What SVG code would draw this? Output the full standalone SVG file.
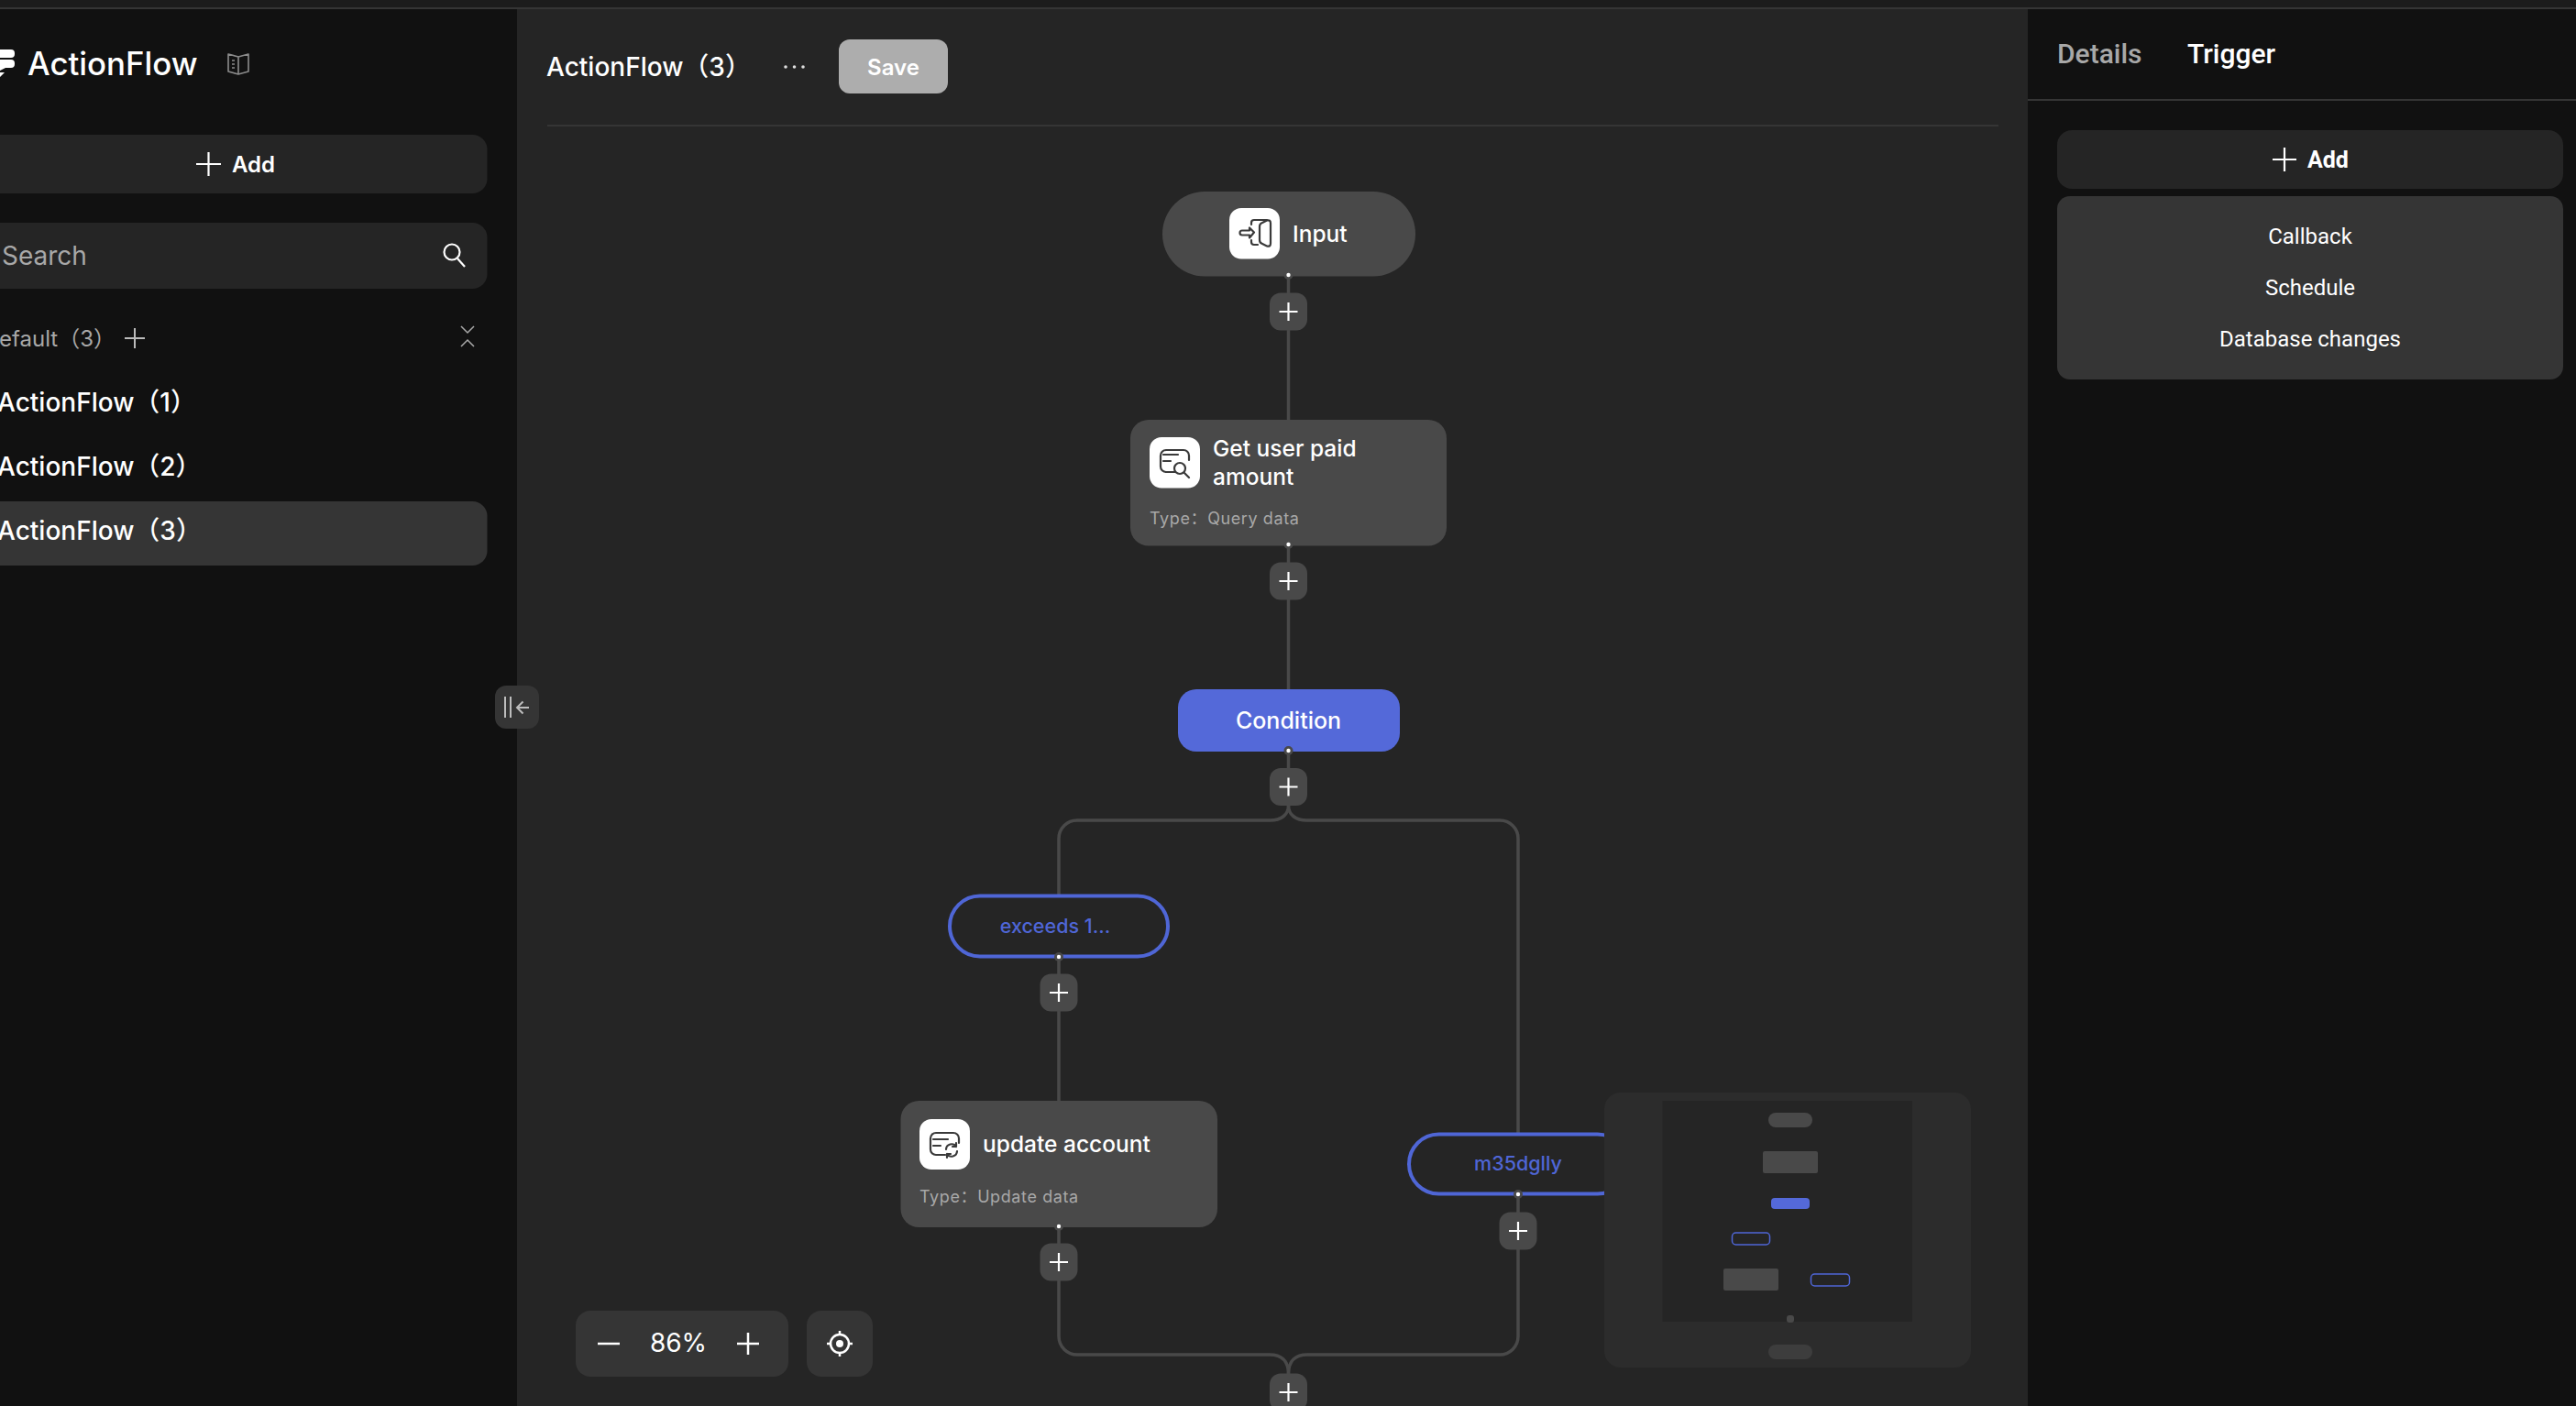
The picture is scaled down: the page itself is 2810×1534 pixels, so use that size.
<svg xmlns="http://www.w3.org/2000/svg" width="2810" height="1534" viewBox="0 0 2810 1534">
<style>
text{font-family:Inter,"Noto Sans CJK SC",sans-serif;fill:#fff}
.r{font-family:Roboto,"Noto Sans CJK SC",sans-serif}
.node{fill:#494949}
.title{font-size:24.500px;font-weight:500}
.type{font-size:18px;fill:#a8a8a8;letter-spacing:.6px}
.cond{fill:none;stroke:#4f66d6;stroke-width:4}
.condt{fill:#4f66d6;font-size:21.500px;font-weight:500;text-anchor:middle}
.link{fill:none;stroke:#494949;stroke-width:3.5}
.pb{fill:#494949}
.ic{fill:none;stroke:#fff;stroke-width:2.2}
.dk{fill:none;stroke:#3a3a3a;stroke-width:2.2;stroke-linecap:round;stroke-linejoin:round}
.iconbg{fill:#fff}
.list{font-size:28px;font-weight:500}
.halo{fill:#494949}
.dot{fill:#fff}
.mini{fill:#494949}
.minio{fill:none;stroke:#4f66d6;stroke-width:1.5}
</style>
<defs>
<g id="plus"><rect class="pb" x="-20.5" y="-20.5" width="41" height="41" rx="12"/><path class="ic" d="M-10 0H10M0-10V10"/></g>
<g id="port"><circle class="halo" r="5"/><circle class="dot" r="2.2"/></g>
</defs>
<rect id="background" width="2810" height="1534" fill="#252525"/>
<g id="topbar"><rect width="2810" height="8" fill="#1c1c1c"/><rect y="8" width="2810" height="2" fill="#353535"/></g>
<g id="sidebar">
<rect y="10" width="564" height="1524" fill="#111"/>
<g id="logo"><path fill="#fff" d="M0 54H12a4 4 0 0 1 4 4v1a4 4 0 0 1-4 4H0zM0 65H12a4 4 0 0 1 4 4v1a4 4 0 0 1-4 4H6L0 77zM0 79H5L0 84z"/>
<text x="30" y="82" font-size="34.800" font-weight="500">ActionFlow</text>
<path d="M260 62l-11-3v19l11 3 11-3V59zM260 62V81M253 66h3M253 70h3M253 74h3" fill="none" stroke="#8c8c8c" stroke-width="1.6" stroke-linejoin="round"/></g>
<g id="side-add"><rect x="-20" y="147" width="551.500" height="64" rx="16" fill="#252525"/><path class="ic" d="M214 179H241M227.500 166V192"/><text x="253" y="188" font-size="24" font-weight="600">Add</text></g>
<g id="side-search"><rect x="-20" y="243" width="551.500" height="72" rx="16" fill="#252525"/><text x="2" y="289" font-size="28" style="fill:#a8a8a8">Search</text><circle cx="493" cy="275" r="8.500" class="ic"/><path class="ic" d="M499 282L507 291"/></g>
<g id="side-group"><text x="-1" y="378" font-size="24" style="fill:#a8a8a8">efault（3）</text><path d="M136 369H158M147 358V380" fill="none" stroke="#bbb" stroke-width="2"/><path d="M503 356L510 363L517 356M503 378L510 371L517 378" fill="none" stroke="#aaa" stroke-width="1.500"/></g>
<g id="side-items"><rect x="-20" y="547" width="551.500" height="70" rx="16" fill="#353535"/>
<text class="list" x="-3" y="449">ActionFlow（1）</text><text class="list" x="-3" y="519">ActionFlow（2）</text><text class="list" x="-3" y="589">ActionFlow（3）</text></g>
</g>
<g id="header"><text x="596" y="83" font-size="28" font-weight="500">ActionFlow（3）</text><g fill="#ddd"><circle cx="857" cy="73" r="1.800"/><circle cx="866.500" cy="73" r="1.800"/><circle cx="876" cy="73" r="1.800"/></g>
<rect x="915" y="43" width="119" height="59" rx="12" fill="#adadad"/><text x="974.500" y="82" font-size="24" font-weight="600" text-anchor="middle">Save</text>
<rect x="597" y="136" width="1583" height="2" fill="#353535"/></g>
<g id="collapse"><rect x="540" y="748" width="48" height="47" rx="12" fill="#353535"/><path d="M551 760V783M557 760V783M577 772H564M570.500 765.500L564 772L570.500 778.500" fill="none" stroke="#bdbdbd" stroke-width="2"/></g>
<g id="connectors">
<path class="link" d="M1405.500 300V458M1405.500 594V752M1405.500 819V879"/>
<path class="link" d="M1405.500 879c0 10-8 16-20 16H1175a20 20 0 0 0-20 20V977"/>
<path class="link" d="M1405.500 879c0 10 8 16 20 16H1636a20 20 0 0 1 20 20V1236"/>
<path class="link" d="M1155 1044V1201M1155 1338V1458a20 20 0 0 0 20 20H1385c12 0 20.500 6 20.500 21"/>
<path class="link" d="M1656 1303V1458a20 20 0 0 1-20 20H1426c-12 0-20.500 6-20.500 21"/>
</g>
<g id="node-input"><rect class="node" x="1268" y="209" width="276" height="92.500" rx="46"/><rect class="iconbg" x="1341" y="227" width="55" height="55.500" rx="13"/>
<path class="dk" d="M1368 253.500l-5-5v3h-8a2.500 2.500 0 0 0 0 5h8v3zM1365 245v-2a3 3 0 0 1 3-3h14M1365 262v2a3 3 0 0 0 3 3h4M1374 247q0-3 3-4l5-2.500q4-1 4 3v22q0 4-4 3l-5-2.500q-3-1-3-4z"/>
<text class="title" x="1410" y="263.500">Input</text></g>
<g id="node-query"><rect class="node" x="1233" y="458" width="345" height="137.500" rx="20"/><rect class="iconbg" x="1254" y="477" width="55" height="55.500" rx="13"/>
<path class="dk" d="M1282 515h-10a6 6 0 0 1-6-6v-12a6 6 0 0 1 6-6h19a6 6 0 0 1 6 6v5M1269 496h16M1269 503h8M1292 516l5 5"/><circle class="dk" cx="1287" cy="511" r="6"/>
<text class="title" x="1323" y="497.500">Get user paid</text><text class="title" x="1323" y="528.500">amount</text><text class="type" x="1254" y="572">Type：Query data</text></g>
<g id="node-condition"><rect x="1285" y="752" width="242" height="68" rx="20" fill="#5469d9"/><text class="title" x="1405.500" y="795" text-anchor="middle" style="font-size:25px">Condition</text></g>
<g id="node-exceeds"><rect class="cond" x="1036" y="977.500" width="238" height="66" rx="33"/><text class="condt" x="1151" y="1018">exceeds 1...</text></g>
<g id="node-update"><rect class="node" x="982.500" y="1201" width="345.500" height="138" rx="20"/><rect class="iconbg" x="1003" y="1221" width="55" height="55" rx="13"/>
<path class="dk" d="M1031 1260h-10a6 6 0 0 1-6-6v-12a6 6 0 0 1 6-6h19a6 6 0 0 1 6 6v5M1018 1243h16M1018 1250h8M1032 1254a6 6 0 0 1 11-3M1044 1256a6 6 0 0 1-11 3M1043 1247v4h-4M1033 1263v-4h4"/>
<text class="title" x="1072" y="1257">update account</text><text class="type" x="1003" y="1312">Type：Update data</text></g>
<g id="node-m35"><rect class="cond" x="1537" y="1237.500" width="238" height="65" rx="32.500"/><text class="condt" x="1656" y="1277">m35dglly</text></g>
<g id="ports">
<use href="#port" x="1405.500" y="300"/><use href="#port" x="1405.500" y="594"/><use href="#port" x="1405.500" y="819"/><use href="#port" x="1155" y="1044"/><use href="#port" x="1155" y="1338"/><use href="#port" x="1656" y="1303"/>
</g>
<g id="add-buttons">
<use href="#plus" x="1405.500" y="340"/><use href="#plus" x="1405.500" y="634"/><use href="#plus" x="1405.500" y="858.500"/><use href="#plus" x="1155" y="1083"/><use href="#plus" x="1155" y="1377"/><use href="#plus" x="1656" y="1343"/><use href="#plus" x="1405.500" y="1519"/>
</g>
<g id="zoom-controls"><rect x="628" y="1430" width="232" height="72" rx="16" fill="#353535"/><path d="M652 1466H676M804 1466H828M816 1454V1478" fill="none" stroke="#fff" stroke-width="2.500"/><text x="740" y="1475" font-size="28" text-anchor="middle">86%</text>
<rect x="880" y="1430" width="72" height="72" rx="16" fill="#353535"/><circle cx="916" cy="1466" r="10" fill="none" stroke="#fff" stroke-width="2.500"/><circle cx="916" cy="1466" r="4" fill="#fff"/><path d="M902 1466H906M926 1466H930M916 1452V1456M916 1476V1480" stroke="#fff" stroke-width="2.500"/></g>
<g id="minimap"><rect x="1750" y="1192" width="400" height="300" rx="18" fill="#2c2c2c"/><rect x="1813.500" y="1201" width="272.500" height="241" fill="#252525"/>
<rect class="mini" x="1929" y="1214" width="48" height="16" rx="8"/><rect class="mini" x="1923" y="1256" width="60" height="24" rx="2"/><rect x="1932" y="1307" width="42" height="12" rx="4" fill="#5469d9"/><rect class="minio" x="1889.500" y="1345" width="41" height="13" rx="4"/><rect class="mini" x="1880" y="1384" width="60" height="24" rx="2"/><rect class="minio" x="1975.500" y="1390" width="42" height="13" rx="4"/><rect class="mini" x="1949" y="1435" width="8" height="8" rx="3"/><rect x="1929" y="1467" width="48" height="16" rx="8" fill="#3d3d3d"/></g>
<g id="right-panel"><rect x="2212" y="10" width="598" height="1524" fill="#111"/><text class="r" x="2244" y="69" font-size="30" font-weight="500" style="fill:#a8a8a8">Details</text><text class="r" x="2386" y="69" font-size="30" font-weight="500">Trigger</text><rect x="2212" y="108" width="598" height="2" fill="#353535"/>
<g id="trigger-add"><rect x="2244" y="142" width="552" height="64" rx="16" fill="#252525"/><path class="ic" d="M2479 174H2505M2492 161V187"/><text class="r" x="2517" y="183" font-size="25" font-weight="700">Add</text></g>
<g id="trigger-menu"><rect x="2244" y="214" width="552" height="200" rx="14" fill="#353535"/><g class="r" font-size="24" text-anchor="middle"><text class="r" x="2520" y="266">Callback</text><text class="r" x="2520" y="322">Schedule</text><text class="r" x="2520" y="378">Database changes</text></g></g></g>
</svg>
